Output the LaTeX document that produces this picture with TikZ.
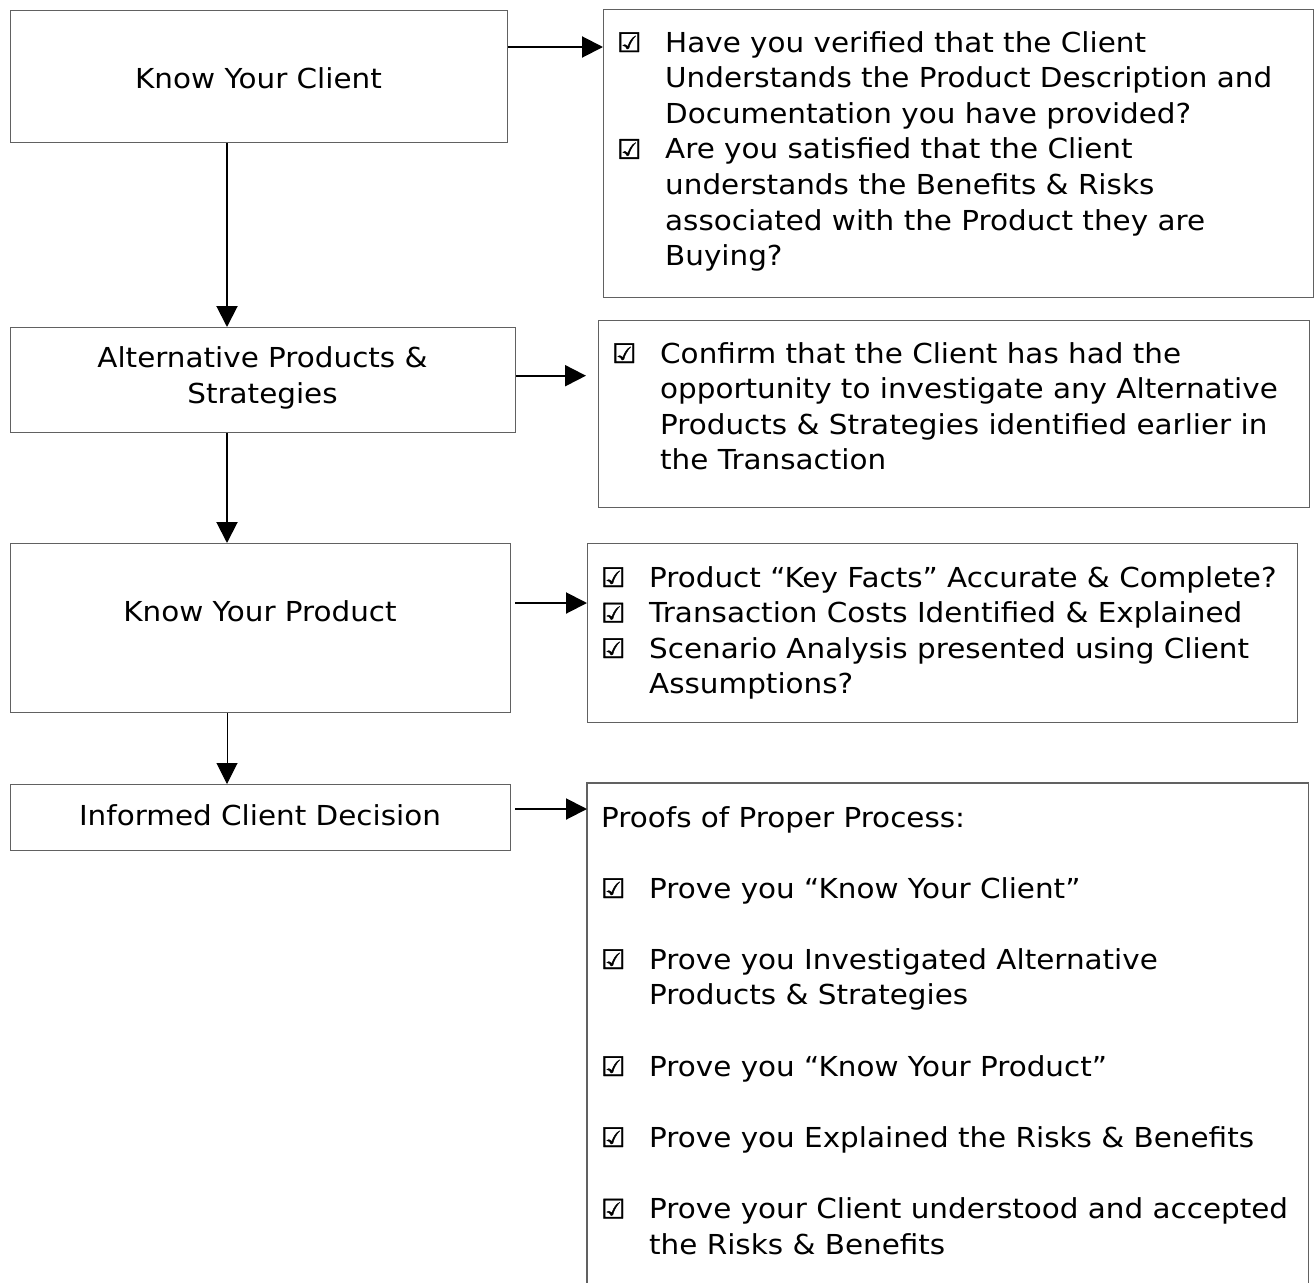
\documentclass[tikz,border=0pt]{standalone}
\usepackage{fontspec}
\setmainfont{DejaVu Sans}[FakeStretch=1.07]
\newfontfamily\cbfont{DejaVu Sans Bold}[FakeBold=1.6]
\usetikzlibrary{arrows.meta}
\newcommand{\cbx}{{\cbfont\fontsize{27}{27}\selectfont ☑}}
\begin{document}
\begin{tikzpicture}[x=1pt,y=-1pt,
  box/.style={draw=black!62, line width=1.3pt, inner sep=0pt, anchor=north west},
  ln/.style={inner sep=0pt, anchor=base west, font=\fontsize{27.5}{35.6}\selectfont},
  ctxt/.style={inner sep=0pt, align=center, font=\fontsize{27.5}{36}\selectfont},
  flow/.style={-{Triangle[length=21pt,width=21pt]}, line width=2pt, black},
  thinflow/.style={-{Triangle[length=21pt,width=21pt]}, line width=1pt, black}]
\useasboundingbox (0,0) rectangle (1314,1282);
% left column
\node[box, minimum width=497pt, minimum height=132pt] (b1) at (10,10) {};
\node[ctxt] (t1) at (258.5,78) {Know Your Client};
\node[box, minimum width=505pt, minimum height=105pt] (b2) at (10,327) {};
\node[ctxt] (t2) at (262.5,378) {Alternative Products \&\\Strategies};
\node[box, minimum width=500pt, minimum height=169pt] (b3) at (10,543) {};
\node[ctxt] (t3) at (260,611.5) {Know Your Product};
\node[box, minimum width=500pt, minimum height=66pt] (b4) at (10,784) {};
\node[ctxt] (t4) at (260,815.5) {Informed Client Decision};
% right column
\node[box, minimum width=710pt, minimum height=288pt] (r1) at (603,9) {};
\node[box, minimum width=711pt, minimum height=187pt] (r2) at (598,320) {};
\node[box, minimum width=710pt, minimum height=179pt] (r3) at (587,543) {};
\node[box, draw=none, minimum width=720pt, minimum height=499pt] (r4) at (587,783) {};
\draw[draw=black!62, line width=1.3pt] (r4.south west) -- (r4.north west) -- (r4.north east) -- (r4.south east);
% R1 text
\node[ln] (c1a) at (617,52) {\cbx};
\node[ln] (l1a) at (665,52) {Have you verified that the Client};
\node[ln] (l1b) at (665,87.6) {Understands the Product Description and};
\node[ln] (l1c) at (665,123.2) {Documentation you have provided?};
\node[ln] (c1b) at (617,158.8) {\cbx};
\node[ln] (l1d) at (665,158.8) {Are you satisfied that the Client};
\node[ln] (l1e) at (665,194.4) {understands the Benefits \& Risks};
\node[ln] (l1f) at (665,230) {associated with the Product they are};
\node[ln] (l1g) at (665,265.6) {Buying?};
% R2 text
\node[ln] (c2a) at (612,363) {\cbx};
\node[ln] (l2a) at (660,363) {Confirm that the Client has had the};
\node[ln] (l2b) at (660,398.5) {opportunity to investigate any Alternative};
\node[ln] (l2c) at (660,434) {Products \& Strategies identified earlier in};
\node[ln] (l2d) at (660,469.5) {the Transaction};
% R3 text
\node[ln] (c3a) at (601,587) {\cbx};
\node[ln] (l3a) at (649,587) {Product “Key Facts” Accurate \& Complete?};
\node[ln] (c3b) at (601,622.5) {\cbx};
\node[ln] (l3b) at (649,622.5) {Transaction Costs Identified \& Explained};
\node[ln] (c3c) at (601,658) {\cbx};
\node[ln] (l3c) at (649,658) {Scenario Analysis presented using Client};
\node[ln] (l3d) at (649,693.5) {Assumptions?};
% R4 text
\node[ln] (l4h) at (601,827) {Proofs of Proper Process:};
\node[ln] (c4a) at (601,898) {\cbx};
\node[ln] (l4a) at (649,898) {Prove you “Know Your Client”};
\node[ln] (c4b) at (601,969) {\cbx};
\node[ln] (l4b) at (649,969) {Prove you Investigated Alternative};
\node[ln] (l4c) at (649,1004.5) {Products \& Strategies};
\node[ln] (c4c) at (601,1076) {\cbx};
\node[ln] (l4d) at (649,1076) {Prove you “Know Your Product”};
\node[ln] (c4d) at (601,1147) {\cbx};
\node[ln] (l4e) at (649,1147) {Prove you Explained the Risks \& Benefits};
\node[ln] (c4e) at (601,1218.5) {\cbx};
\node[ln] (l4f) at (649,1218.5) {Prove your Client understood and accepted};
\node[ln] (l4g) at (649,1254) {the Risks \& Benefits};
% vertical connectors
\draw[flow] ([xshift=217pt]b1.south west) -- ([xshift=217pt]b2.north west);
\draw[flow] ([xshift=217pt]b2.south west) -- ([xshift=217pt]b3.north west);
\draw[thinflow] ([xshift=217pt]b3.south west) -- ([xshift=217pt]b4.north west);
% horizontal connectors
\coordinate (h1s) at ([yshift=-37pt]b1.north east);
\coordinate (h1t) at (h1s -| r1.west);
\draw[flow] (h1s) -- (h1t);
\coordinate (h2s) at ([yshift=-48.7pt]b2.north east);
\coordinate (h2t) at (h2s -| r2.west);
\draw[flow] (h2s) -- ([xshift=-12pt]h2t);
\coordinate (h3s) at ([xshift=4pt,yshift=-60pt]b3.north east);
\coordinate (h3t) at (h3s -| r3.west);
\draw[flow] (h3s) -- (h3t);
\coordinate (h4s) at ([xshift=4pt,yshift=-25pt]b4.north east);
\coordinate (h4t) at (h4s -| r4.west);
\draw[flow] (h4s) -- (h4t);
\end{tikzpicture}
\end{document}
